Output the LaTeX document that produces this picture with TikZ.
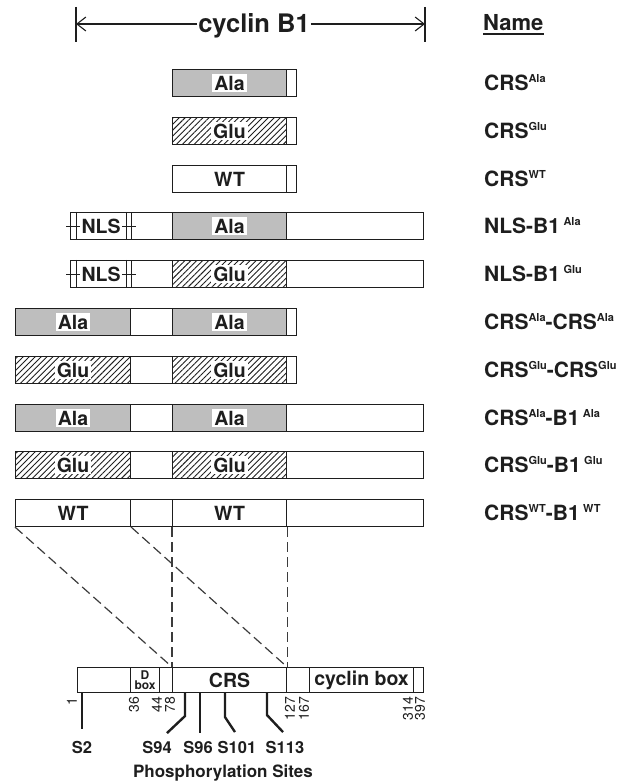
\documentclass[tikz,border=0pt]{standalone}
\usepackage{fontspec}
\setmainfont{TeX Gyre Heros}
\usetikzlibrary{arrows.meta,calc,patterns.meta}
\definecolor{ink}{HTML}{1E1E1E}
\definecolor{muted}{HTML}{3C3C3C}
\definecolor{alafill}{HTML}{BEBEBE}
\newcommand{\vsup}[1]{\raisebox{0.36em}{\fontsize{11bp}{11bp}\selectfont #1}}
\tikzset{
  figbase/.style={
    x=1bp, y=-1bp,
    font=\bfseries\fontsize{19.5bp}{22bp}\selectfont,
    color=ink,
    line join=miter,
  },
  seg/.style={
    rectangle, draw=ink, line width=1.1bp,
    minimum height=27bp, inner sep=0pt,
    anchor=west, fill=white, text=ink,
  },
  segala/.style={seg, fill=alafill},
  segglu/.style={seg, pattern={Lines[angle=45,distance=4.2bp,line width=0.9bp]}, pattern color=ink},
  barseg/.style={seg, minimum height=25bp},
  boxlab/.style={fill=white, inner sep=2bp, text=ink},
  namelab/.style={anchor=base west, inner sep=0pt, font=\bfseries\fontsize{21bp}{24bp}\selectfont},
  numlab/.style={rotate=90, anchor=east, inner sep=0pt, font=\mdseries\fontsize{14bp}{16bp}\selectfont},
  sitelab/.style={inner sep=0pt, font=\bfseries\fontsize{16.5bp}{18bp}\selectfont},
  site/.style={draw=ink, line width=2.4bp},
  guide/.style={draw=muted, line width=1.2bp, dash pattern=on 10bp off 5bp},
  span/.style={-{Straight Barb[length=9bp,width=14bp,line width=1.1bp]}, line width=1.1bp, draw=ink},
  nlstick/.style={draw=ink, line width=0.8bp},
}
\begin{document}
\begin{tikzpicture}[figbase]
  \useasboundingbox (0,0) rectangle (628,784);

  % full-length span and heading
  \coordinate (spanl) at (76,24);
  \coordinate (spanr) at (425,24);
  \draw[line width=1.1bp] ($(spanl)+(0,-17)$) -- ($(spanl)+(0,18)$)
    ($(spanr)+(0,-17)$) -- ($(spanr)+(0,18)$);
  \node[anchor=base, inner sep=1bp, fill=white, font=\bfseries\fontsize{25.5bp}{28bp}\selectfont]
    (title) at (254,33) {cyclin B1};
  \draw[span] (title.west |- spanl) -- (spanl);
  \draw[span] (title.east |- spanr) -- (spanr);
  \node[namelab, font=\bfseries\fontsize{22bp}{24bp}\selectfont] (namehead) at (483,31) {Name};
  \draw[line width=1.6bp] ($(namehead.base west)+(0,3)$) -- ($(namehead.base east)+(0,3)$);

  % CRS alone
  \node[segala, minimum width=114bp] (r1a) at (172,83) {};
  \node[seg, minimum width=10bp] (r1t) at (286,83) {};
  \node[boxlab] (t1a) at (r1a) {Ala};
  \node[segglu, minimum width=114bp] (r2a) at (172,131) {};
  \node[seg, minimum width=10bp] (r2t) at (286,131) {};
  \node[boxlab] (t2a) at (r2a) {Glu};
  \node[seg, minimum width=114bp] (r3a) at (172,179) {WT};
  \node[seg, minimum width=10bp] (r3t) at (286,179) {};

  % NLS-B1
  \node[seg, minimum width=61bp] (r4n) at (70,226) {NLS};
  \node[seg, minimum width=41bp] (r4g) at (131,226) {};
  \node[segala, minimum width=114bp] (r4a) at (172,226) {};
  \node[seg, minimum width=137bp] (r4t) at (286,226) {};
  \node[boxlab] (t4a) at (r4a) {Ala};
  \node[seg, minimum width=61bp] (r5n) at (70,274) {NLS};
  \node[seg, minimum width=41bp] (r5g) at (131,274) {};
  \node[segglu, minimum width=114bp] (r5a) at (172,274) {};
  \node[seg, minimum width=137bp] (r5t) at (286,274) {};
  \node[boxlab] (t5a) at (r5a) {Glu};
  \draw[nlstick] ($(r4n.north west)+(6,0)$) -- ($(r4n.south west)+(6,0)$)
    ($(r4n.west)+(-4,0)$) -- ($(r4n.west)+(10,0)$)
    ($(r4n.north east)+(-6,0)$) -- ($(r4n.south east)+(-6,0)$)
    ($(r4n.east)+(-10,0)$) -- ($(r4n.east)+(4,0)$);
  \draw[nlstick] ($(r5n.north west)+(6,0)$) -- ($(r5n.south west)+(6,0)$)
    ($(r5n.west)+(-4,0)$) -- ($(r5n.west)+(10,0)$)
    ($(r5n.north east)+(-6,0)$) -- ($(r5n.south east)+(-6,0)$)
    ($(r5n.east)+(-10,0)$) -- ($(r5n.east)+(4,0)$);

  % CRS-CRS
  \node[segala, minimum width=115bp] (r6a) at (15,322) {};
  \node[seg, minimum width=42bp] (r6g) at (130,322) {};
  \node[segala, minimum width=114bp] (r6b) at (172,322) {};
  \node[seg, minimum width=10bp] (r6t) at (286,322) {};
  \node[boxlab] (t6a) at (r6a) {Ala};
  \node[boxlab] (t6b) at (r6b) {Ala};
  \node[segglu, minimum width=115bp] (r7a) at (15,370) {};
  \node[seg, minimum width=42bp] (r7g) at (130,370) {};
  \node[segglu, minimum width=114bp] (r7b) at (172,370) {};
  \node[seg, minimum width=10bp] (r7t) at (286,370) {};
  \node[boxlab] (t7a) at (r7a) {Glu};
  \node[boxlab] (t7b) at (r7b) {Glu};

  % CRS-B1
  \node[segala, minimum width=115bp] (r8a) at (15,418) {};
  \node[seg, minimum width=42bp] (r8g) at (130,418) {};
  \node[segala, minimum width=114bp] (r8b) at (172,418) {};
  \node[seg, minimum width=137bp] (r8t) at (286,418) {};
  \node[boxlab] (t8a) at (r8a) {Ala};
  \node[boxlab] (t8b) at (r8b) {Ala};
  \node[segglu, minimum width=115bp] (r9a) at (15,465) {};
  \node[seg, minimum width=42bp] (r9g) at (130,465) {};
  \node[segglu, minimum width=114bp] (r9b) at (172,465) {};
  \node[seg, minimum width=137bp] (r9t) at (286,465) {};
  \node[boxlab] (t9a) at (r9a) {Glu};
  \node[boxlab] (t9b) at (r9b) {Glu};
  \node[seg, minimum width=115bp] (r10a) at (15,513) {WT};
  \node[seg, minimum width=42bp] (r10g) at (130,513) {};
  \node[seg, minimum width=114bp] (r10b) at (172,513) {WT};
  \node[seg, minimum width=137bp] (r10t) at (286,513) {};

  % names
  \node[namelab] (nm1) at (484,90.5) {CRS\vsup{Ala}};
  \node[namelab] (nm2) at (484,138.5) {CRS\vsup{Glu}};
  \node[namelab] (nm3) at (484,186.5) {CRS\vsup{WT}};
  \node[namelab] (nm4) at (484,233.5) {NLS-B1\,\vsup{Ala}};
  \node[namelab] (nm5) at (484,281.5) {NLS-B1\,\vsup{Glu}};
  \node[namelab] (nm6) at (484,329.5) {CRS\vsup{Ala}-CRS\vsup{Ala}};
  \node[namelab] (nm7) at (484,377.5) {CRS\vsup{Glu}-CRS\vsup{Glu}};
  \node[namelab] (nm8) at (484,425.5) {CRS\vsup{Ala}-B1\,\vsup{Ala}};
  \node[namelab] (nm9) at (484,472.5) {CRS\vsup{Glu}-B1\,\vsup{Glu}};
  \node[namelab] (nm10) at (484,520.5) {CRS\vsup{WT}-B1\,\vsup{WT}};

  % cyclin B1 map
  \node[barseg, minimum width=53bp] (b1) at (77,680) {};
  \node[barseg, minimum width=29bp, align=center, font=\bfseries\fontsize{12bp}{10.5bp}\selectfont]
    (dbox) at (130,680) {D\\box};
  \node[barseg, minimum width=13bp] (b2) at (159,680) {};
  \node[barseg, minimum width=114bp] (crs) at (172,680) {CRS};
  \node[barseg, minimum width=23bp] (b3) at (286,680) {};
  \node[barseg, minimum width=104bp] (cycbox) at (309,680) {cyclin box};
  \node[barseg, minimum width=10bp] (b4) at (413,680) {};

  \draw[guide] (r10a.south west) -- (crs.north west);
  \draw[guide] (r10a.south east) -- (crs.north east);
  \draw[guide] (r10b.south west) -- (crs.north west);
  \draw[guide] (r10b.south east) -- (crs.north east);

  \node[numlab] (n1) at (72,698) {1};
  \node[numlab] (n36) at (134,697) {36};
  \node[numlab] (n44) at (157,697) {44};
  \node[numlab] (n78) at (170,697) {78};
  \node[numlab] (n127) at (290,697) {127};
  \node[numlab] (n167) at (304,697) {167};
  \node[numlab] (n314) at (408,697) {314};
  \node[numlab] (n397) at (420,697) {397};

  \draw[site] (b1.south west) ++(5,0) -- ++(0,36);
  \draw[site] (crs.south west) ++(13,0) -- ++(0,23) -- ++(-18,17);
  \draw[site] (crs.south west) ++(28,0) -- ++(0,40);
  \draw[site] (crs.south west) ++(53,0) -- ++(0,24) -- ++(10,15);
  \draw[site] (crs.south west) ++(95,0) -- ++(0,22) -- ++(16,17);

  \node[sitelab] (s2) at (82,747) {S2};
  \node[sitelab] (s94) at (157,747) {S94};
  \node[sitelab] (s96) at (198,747) {S96};
  \node[sitelab] (s101) at (237,747) {S101};
  \node[sitelab] (s113) at (285,747) {S113};
  \node[sitelab, font=\bfseries\fontsize{17bp}{19bp}\selectfont] (phos) at (223,773) {Phosphorylation Sites};
\end{tikzpicture}
\end{document}
